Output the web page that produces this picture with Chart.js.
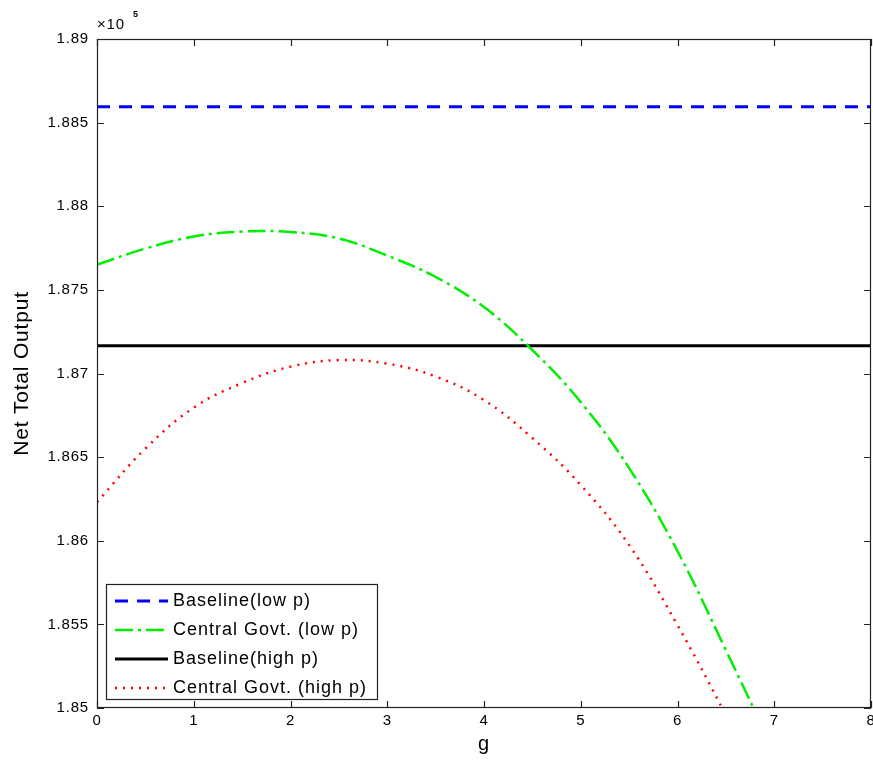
<!DOCTYPE html>
<html>
<head>
<meta charset="utf-8">
<script src="https://cdn.jsdelivr.net/npm/chart.js@4.4.0/dist/chart.umd.min.js"></script>
<style>
  html, body { margin: 0; padding: 0; background: #fff; }
</style>
</head>
<body>
<canvas id="outputChart" width="873" height="763"></canvas>
<script>
const gValues = [0, 0.5, 1, 1.5, 2, 2.5, 3, 3.5, 4, 4.5, 5, 5.5, 6, 6.5, 7];

// net total output (real units, axis shows x 10^5)
const centralGovtLowP  = [187651, 187747, 187819, 187849, 187846, 187807, 187705, 187577, 187397, 187140, 186829, 186434, 185938, 185346, 184736];
const centralGovtHighP = [186231, 186551, 186796, 186943, 187041, 187080, 187059, 186982, 186841, 186614, 186333, 185974, 185495, 184957, 184389];
const baselineLowP  = 188595;
const baselineHighP = 187166;

const gRange = [0, 8];
const outputRange = [185000, 189000];
const outputStep = 500;

const seriesLabels = ['Baseline(low p)', 'Central Govt. (low p)', 'Baseline(high p)', 'Central Govt. (high p)'];

const FONT = 'Liberation Sans, Arial, sans-serif';

function toPoints(xs, ys) {
    return xs.map((g, i) => ({ x: g, y: ys[i] }));
}

// MATLAB style box, inward ticks, exponent and legend
const matlabFrame = {
    id: 'matlabFrame',
    beforeDraw(chart) {
        chart.ctx.letterSpacing = '0.8px';
    },
    afterDatasetsDraw(chart) {
        const { ctx, chartArea: a, scales: { x, y } } = chart;
        ctx.save();
        ctx.strokeStyle = '#222';
        ctx.lineWidth = 1.2;
        ctx.strokeRect(a.left + 0.5, a.top + 0.5, a.right - a.left - 1, a.bottom - a.top - 1);

        const len = 7;
        ctx.beginPath();
        x.ticks.forEach(t => {
            const px = Math.round(x.getPixelForValue(t.value)) + 0.5;
            ctx.moveTo(px, a.bottom); ctx.lineTo(px, a.bottom - len);
            ctx.moveTo(px, a.top); ctx.lineTo(px, a.top + len);
        });
        y.ticks.forEach(t => {
            const py = Math.round(y.getPixelForValue(t.value)) + 0.5;
            ctx.moveTo(a.left, py); ctx.lineTo(a.left + len, py);
            ctx.moveTo(a.right, py); ctx.lineTo(a.right - len, py);
        });
        ctx.stroke();

        // exponent label
        ctx.fillStyle = '#000';
        ctx.textBaseline = 'alphabetic';
        ctx.textAlign = 'left';
        ctx.font = '15px ' + FONT;
        ctx.fillText('\u00d710', a.left, a.top - 10);
        ctx.font = 'bold 9px ' + FONT;
        ctx.fillText('5', a.left + 36, a.top - 22);
        ctx.restore();
    },
    afterDraw(chart) {
        const { ctx, chartArea: a } = chart;
        const box = { left: 106, top: a.bottom - 124, width: 271, height: 115 };
        ctx.save();
        ctx.fillStyle = '#fff';
        ctx.fillRect(box.left, box.top, box.width, box.height);
        ctx.strokeStyle = '#222';
        ctx.lineWidth = 1.2;
        ctx.strokeRect(box.left + 0.5, box.top + 0.5, box.width, box.height);

        ctx.font = '18px ' + FONT;
        ctx.letterSpacing = '1px';
        ctx.textBaseline = 'middle';
        ctx.fillStyle = '#000';
        chart.data.datasets.forEach((ds, i) => {
            const cy = box.top + 17 + i * 29;
            ctx.beginPath();
            ctx.strokeStyle = ds.borderColor;
            ctx.lineWidth = ds.borderWidth;
            ctx.setLineDash(ds.borderDash || []);
            ctx.moveTo(box.left + 9, cy);
            ctx.lineTo(box.left + 62, cy);
            ctx.stroke();
            ctx.setLineDash([]);
            ctx.fillText(ds.label, box.left + 67, cy);
        });
        ctx.restore();
    }
};

const outputChart = new Chart(document.getElementById('outputChart').getContext('2d'), {
    type: 'line',
    data: {
        datasets: [
            {
                label: seriesLabels[0],
                data: toPoints(gRange, [baselineLowP, baselineLowP]),
                borderColor: '#0000ff',
                borderWidth: 3,
                borderDash: [13, 9],
                borderCapStyle: 'butt',
            },
            {
                label: seriesLabels[1],
                data: toPoints(gValues, centralGovtLowP),
                borderColor: '#00ee00',
                borderWidth: 2.5,
                borderDash: [18, 5, 3, 5],
                borderCapStyle: 'butt',
                tension: 0.4,
            },
            {
                label: seriesLabels[2],
                data: toPoints(gRange, [baselineHighP, baselineHighP]),
                borderColor: '#000000',
                borderWidth: 3,
            },
            {
                label: seriesLabels[3],
                data: toPoints(gValues, centralGovtHighP),
                borderColor: '#ff0000',
                borderWidth: 2.5,
                borderDash: [2, 6],
                borderCapStyle: 'butt',
                tension: 0.4,
            },
        ],
    },
    options: {
        responsive: false,
        animation: false,
        devicePixelRatio: 1,
        elements: { point: { radius: 0 } },
        layout: { padding: { top: 39, right: 2, left: 0, bottom: 0 } },
        plugins: {
            legend: { display: false },
            tooltip: { enabled: false },
        },
        scales: {
            x: {
                type: 'linear',
                min: gRange[0],
                max: gRange[1],
                grid: { display: false, drawTicks: false },
                border: { display: false },
                ticks: { stepSize: 1, color: '#000', padding: 4, font: { family: FONT, size: 15 } },
                title: { display: true, text: 'g', color: '#000', font: { family: FONT, size: 20 }, padding: { bottom: 7 } },
                afterFit: s => { s.height = 55; s.paddingRight = 0; s.paddingLeft = 0; },
            },
            y: {
                min: outputRange[0],
                max: outputRange[1],
                grid: { display: false, drawTicks: false },
                border: { display: false },
                ticks: {
                    stepSize: outputStep,
                    color: '#000',
                    padding: 8,
                    font: { family: FONT, size: 15 },
                    callback: v => Number((v / 1e5).toFixed(3)).toString(),
                },
                title: { display: true, text: 'Net Total Output', color: '#000', font: { family: FONT, size: 21 }, padding: { top: 10 } },
                afterFit: s => { s.width = 97; s.paddingTop = 0; s.paddingBottom = 0; },
            },
        },
    },
    plugins: [matlabFrame],
});
</script>
</body>
</html>
